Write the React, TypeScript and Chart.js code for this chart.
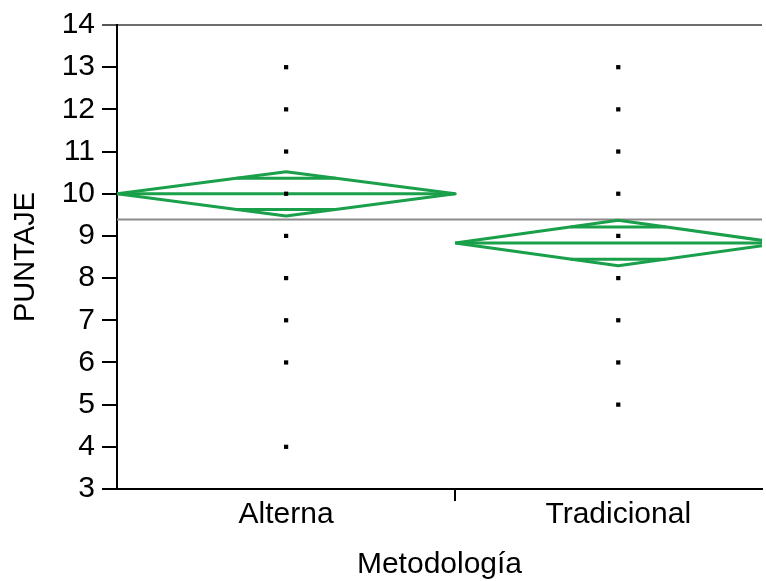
import { useEffect, useRef } from "react";
import { Chart, registerables } from "chart.js";
Chart.register(...registerables);

// ---- data ----
const categories = ["Alterna", "Tradicional"];
const groupN = [28, 27]; // relative group sizes (diamond widths)
const groupMeans = [10.0, 8.83];
const ciUpper = [10.52, 9.37];
const ciLower = [9.47, 8.29];
const grandMean = 9.39;
const alternaScores = [4, 6, 7, 8, 9, 10, 11, 12, 13];
const tradicionalScores = [5, 6, 7, 8, 9, 10, 11, 12, 13];
const groupScores = [alternaScores, tradicionalScores];
const yMin = 3;
const yMax = 14;
const xVisibleMax = 53.4;

const FONT = "'Liberation Sans', Arial, sans-serif";
const GREEN = "#1a9f4a";

export default function App() {
  const ref = useRef<HTMLCanvasElement>(null);

  useEffect(() => {
    if (!ref.current) return;
    const starts: number[] = [];
    let acc = 0;
    groupN.forEach((n) => {
      starts.push(acc);
      acc += n;
    });
    const ends = groupN.map((n, i) => starts[i] + n);
    const centers = groupN.map((n, i) => starts[i] + n / 2);
    const boundary = ends[0];

    const pointData: { x: number; y: number }[] = [];
    groupScores.forEach((arr, i) => arr.forEach((v) => pointData.push({ x: centers[i], y: v })));

    const datasets: any[] = [
      {
        label: "points",
        data: pointData,
        pointStyle: "rect",
        pointRadius: 3,
        backgroundColor: "#000",
        borderColor: "#000",
        borderWidth: 0,
        showLine: false,
      },
    ];

    categories.forEach((_, i) => {
      const s = starts[i], e = ends[i], c = centers[i], m = groupMeans[i];
      const u = ciUpper[i], l = ciLower[i];
      datasets.push({
        label: "diamond" + i,
        data: [
          { x: s, y: m },
          { x: c, y: u },
          { x: e, y: m },
          { x: c, y: l },
          { x: s, y: m },
        ],
        showLine: true,
        borderColor: GREEN,
        borderWidth: 3,
        pointRadius: 0,
        tension: 0,
        borderJoinStyle: "round",
      });
      datasets.push({
        label: "mean" + i,
        data: [
          { x: s, y: m },
          { x: e, y: m },
        ],
        showLine: true,
        borderColor: GREEN,
        borderWidth: 3,
        pointRadius: 0,
      });
      const halfUp = (u - m) / Math.SQRT2;
      const halfLo = (m - l) / Math.SQRT2;
      const frac = 1 - 1 / Math.SQRT2;
      const hw = frac * ((e - s) / 2);
      datasets.push({
        label: "overlap" + i,
        data: [
          { x: c - hw, y: m + halfUp },
          { x: c + hw, y: m + halfUp },
          { x: c, y: null },
          { x: c - hw, y: m - halfLo },
          { x: c + hw, y: m - halfLo },
        ],
        showLine: true,
        spanGaps: false,
        borderColor: GREEN,
        borderWidth: 3,
        pointRadius: 0,
      });
    });

    datasets.push({
      label: "grand",
      data: [
        { x: 0, y: grandMean },
        { x: xVisibleMax, y: grandMean },
      ],
      showLine: true,
      borderColor: "#8a8a8a",
      borderWidth: 2,
      pointRadius: 0,
    });

    const chart = new Chart(ref.current, {
      type: "scatter",
      data: { datasets },
      options: {
        responsive: false,
        animation: false,
        devicePixelRatio: 1,
        layout: { padding: { top: 24, right: 0, left: 0, bottom: 0 } },
        plugins: { legend: { display: false }, tooltip: { enabled: false } },
        scales: {
          x: {
            type: "linear",
            min: 0,
            max: xVisibleMax,
            afterBuildTicks: (s: any) => {
              s.ticks = [{ value: centers[0] }, { value: boundary }, { value: centers[1] }];
            },
            afterFit: (s: any) => {
              s.height = 92;
            },
            ticks: {
              autoSkip: false,
              maxRotation: 0,
              padding: -4,
              color: "#000",
              font: { family: FONT, size: 30 },
              callback: (v: any) => {
                const idx = centers.indexOf(Number(v));
                return idx >= 0 ? categories[idx] : "";
              },
            },
            grid: {
              drawOnChartArea: false,
              tickLength: 12,
              lineWidth: 2,
              tickColor: (ctx: any) => (ctx.tick && ctx.tick.value === boundary ? "#000" : "rgba(0,0,0,0)"),
            },
            border: { color: "#000", width: 2 },
            title: {
              display: true,
              text: "Metodología",
              color: "#000",
              font: { family: FONT, size: 30 },
              padding: { top: -2, bottom: -2 },
            },
          },
          y: {
            min: yMin,
            max: yMax,
            afterFit: (s: any) => {
              s.width = 117;
            },
            ticks: {
              stepSize: 1,
              padding: 7,
              color: "#000",
              font: { family: FONT, size: 30 },
            },
            grid: {
              drawOnChartArea: true,
              tickLength: 15,
              lineWidth: 2,
              color: (ctx: any) => (ctx.tick && ctx.tick.value === yMax ? "#6e6e6e" : "rgba(0,0,0,0)"),
              tickColor: (ctx: any) => (ctx.tick && ctx.tick.value === yMax ? "#555" : "#000"),
            },
            border: { color: "#000", width: 2 },
            title: {
              display: true,
              text: "PUNTAJE",
              color: "#000",
              font: { family: FONT, size: 29 },
              padding: { top: 9, bottom: 0 },
            },
          },
        },
      },
    });
    return () => chart.destroy();
  }, []);

  return (
    <div style={{ position: "fixed", left: 0, top: 0, width: 766, height: 581, background: "#fff" }}>
      <canvas ref={ref} width={766} height={581} style={{ display: "block", width: 766, height: 581 }} />
    </div>
  );
}
